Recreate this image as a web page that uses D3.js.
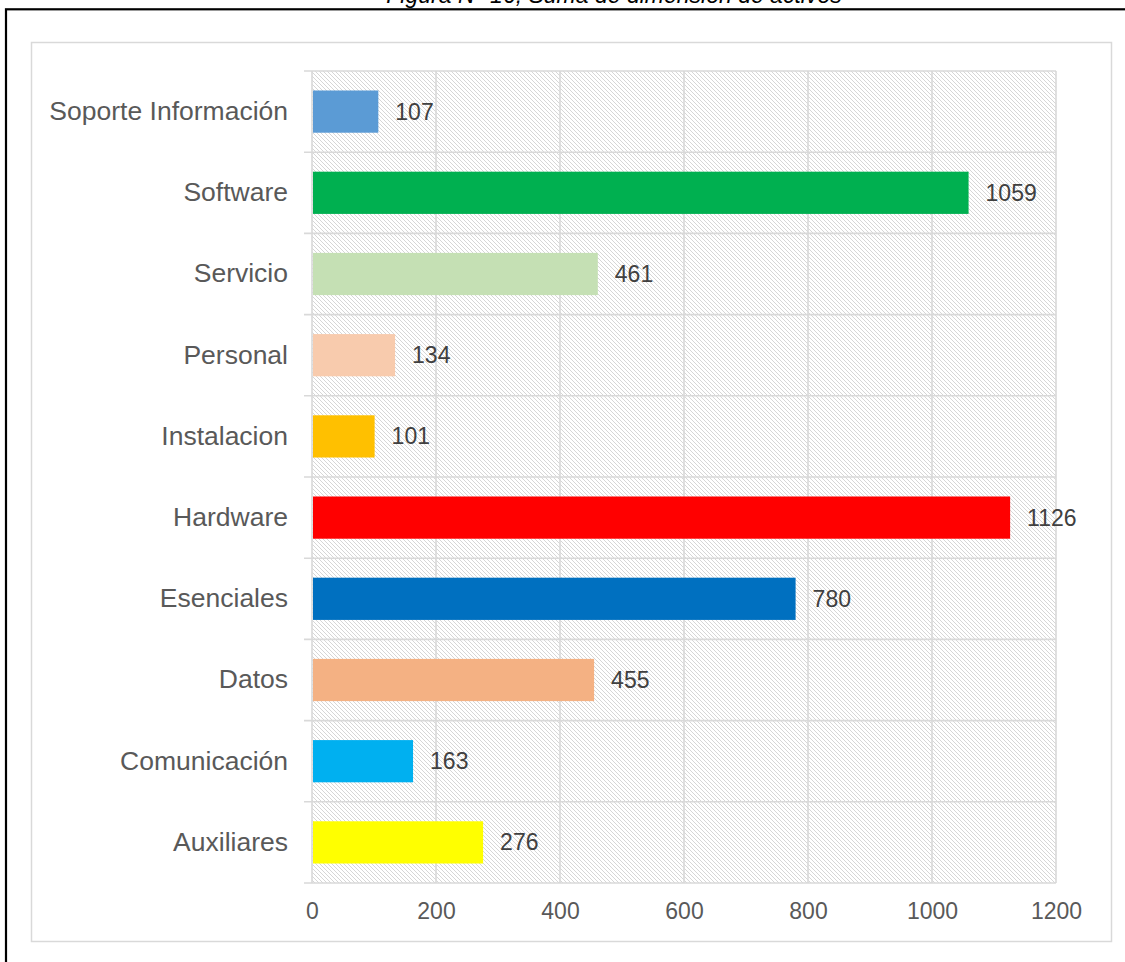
<!DOCTYPE html>
<html>
<head>
<meta charset="utf-8">
<script src="https://cdn.jsdelivr.net/npm/d3@7"></script>
<style>
  html, body { margin: 0; padding: 0; background: #fff; }
  svg { display: block; }
  text { font-family: "Liberation Sans", Arial, sans-serif; }
</style>
</head>
<body>
<svg id="chart" width="1125" height="962"></svg>
<script>
// Categories listed top to bottom as they appear on the chart
const categories = ["Soporte Información", "Software", "Servicio", "Personal", "Instalacion",
                    "Hardware", "Esenciales", "Datos", "Comunicación", "Auxiliares"];
const values = [107, 1059, 461, 134, 101, 1126, 780, 455, 163, 276];
const barColors = ["#5b9bd5", "#00b050", "#c5e0b4", "#f8cbad", "#ffc000",
                   "#ff0000", "#0070c0", "#f4b183", "#00b0f0", "#ffff00"];
const xTicks = [0, 200, 400, 600, 800, 1000, 1200];
const title = "Figura N° 16, Suma de dimensión de activos";

const svg = d3.select("#chart");
const gridColor = "#d9d9d9";

// Hatched plot background
const defs = svg.append("defs");
const pat = defs.append("pattern")
  .attr("id", "hatch")
  .attr("patternUnits", "userSpaceOnUse")
  .attr("width", 4).attr("height", 4);
pat.append("rect").attr("width", 4).attr("height", 4).attr("fill", "#fff");
pat.append("path")
  .attr("d", "M-1,-1 L5,5 M-1,3 L1,5 M3,-1 L5,1")
  .attr("stroke", "#d6d6d6").attr("stroke-width", 1);

// Title sitting above the black page frame
svg.append("text")
  .attr("x", 614).attr("y", 3)
  .attr("text-anchor", "middle")
  .attr("font-size", 23).attr("font-style", "italic")
  .attr("fill", "#000")
  .text(title);
svg.append("rect")
  .attr("x", 6).attr("y", 9.3).attr("width", 1130).attr("height", 970)
  .attr("fill", "none").attr("stroke", "#000").attr("stroke-width", 2.2);

// Chart area border
svg.append("rect")
  .attr("x", 31.5).attr("y", 42.5).attr("width", 1080).attr("height", 899)
  .attr("fill", "#fff").attr("stroke", gridColor).attr("stroke-width", 1.5);

const plot = { left: 312, right: 1056, top: 71, bottom: 883 };

const x = d3.scaleLinear().domain([0, 1200]).range([plot.left, plot.right]);
const y = d3.scaleBand().domain(categories)
  .range([plot.top, plot.bottom])
  .paddingInner(0.48).paddingOuter(0.24);

// Plot background
svg.append("rect")
  .attr("x", plot.left).attr("y", plot.top)
  .attr("width", plot.right - plot.left).attr("height", plot.bottom - plot.top)
  .attr("fill", "url(#hatch)");

// Vertical gridlines
svg.append("g").selectAll("line")
  .data(xTicks)
  .join("line")
  .attr("x1", d => x(d)).attr("x2", d => x(d))
  .attr("y1", plot.top).attr("y2", plot.bottom)
  .attr("stroke", gridColor).attr("stroke-width", 1.6);

// Horizontal lines at category boundaries (with ticks to the left of the axis)
const step = y.step();
const bounds = categories.map(c => y(c) - step * y.paddingInner() / 2);
bounds.push(plot.bottom);
svg.append("g").selectAll("line")
  .data(bounds)
  .join("line")
  .attr("x1", plot.left - 8).attr("x2", plot.right)
  .attr("y1", d => d).attr("y2", d => d)
  .attr("stroke", gridColor).attr("stroke-width", 1.6);

// Bars
svg.append("g").selectAll("rect")
  .data(categories)
  .join("rect")
  .attr("x", x(0) + 1)
  .attr("y", d => y(d))
  .attr("width", (d, i) => x(values[i]) - x(0) - 1)
  .attr("height", y.bandwidth())
  .attr("fill", (d, i) => barColors[i]);

// Value labels
svg.append("g").selectAll("text")
  .data(categories)
  .join("text")
  .attr("x", (d, i) => x(values[i]) + 17)
  .attr("y", d => y(d) + y.bandwidth() / 2)
  .attr("dy", "0.35em")
  .attr("font-size", 23)
  .attr("fill", "#404040")
  .text((d, i) => values[i]);

// Category axis labels
const yAxis = d3.axisLeft(y).tickSize(0).tickPadding(24);
const gy = svg.append("g").attr("transform", `translate(${plot.left},0)`).call(yAxis);
gy.select(".domain").remove();
gy.selectAll("text")
  .attr("font-size", 26.5)
  .attr("font-family", "Liberation Sans, Arial, sans-serif")
  .attr("fill", "#595959");

// Value axis labels
const xAxis = d3.axisBottom(x).tickValues(xTicks).tickSize(0).tickPadding(20).tickFormat(d3.format("d"));
const gx = svg.append("g").attr("transform", `translate(0,${plot.bottom})`).call(xAxis);
gx.select(".domain").remove();
gx.selectAll("text")
  .attr("font-size", 23)
  .attr("font-family", "Liberation Sans, Arial, sans-serif")
  .attr("fill", "#595959");
</script>
</body>
</html>
